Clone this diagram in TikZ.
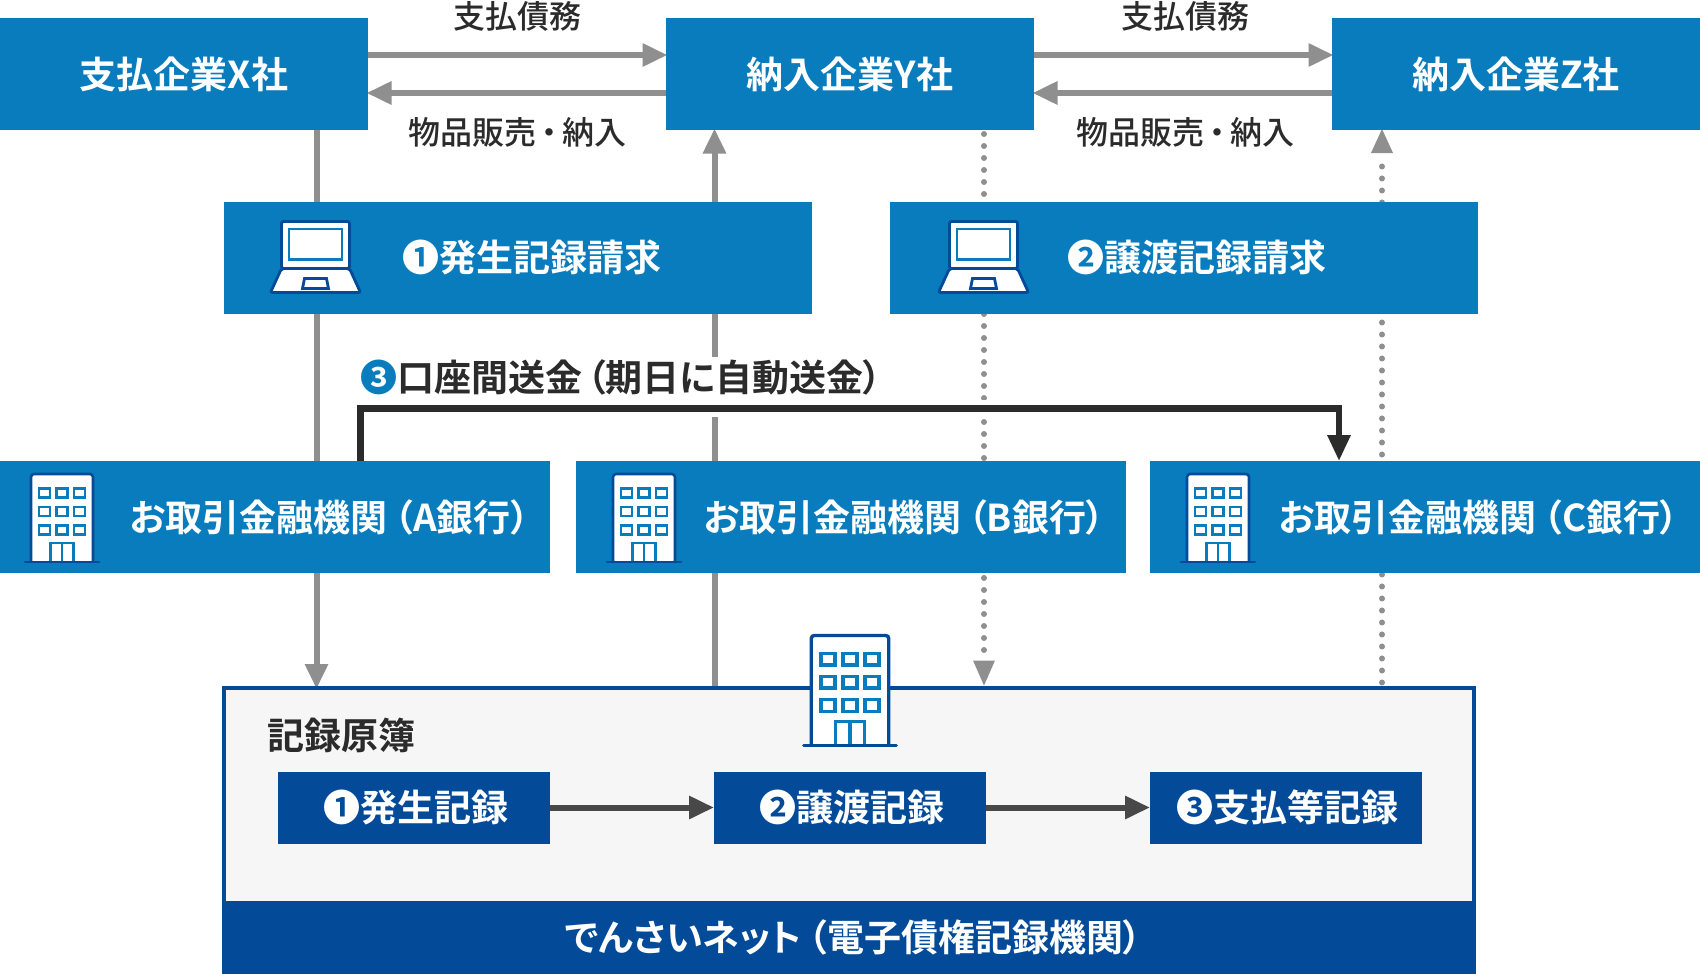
\documentclass[tikz,border=0pt]{standalone}
\usepackage{fontspec}
\setmainfont[RawFeature={+palt}]{Noto Sans CJK JP}
\newfontfamily\medf[RawFeature={+palt}]{Noto Sans CJK JP Medium}
\newfontfamily\boldf[RawFeature={+palt}]{Noto Sans CJK JP Bold}
\usetikzlibrary{arrows.meta,calc}
\definecolor{boxblue}{HTML}{087CBD}
\definecolor{navy}{HTML}{034A98}
\definecolor{linegray}{HTML}{8F8F8F}
\definecolor{inkdark}{HTML}{2B2B2B}
\definecolor{arrowdark}{HTML}{484848}
\definecolor{ledgerfill}{HTML}{F6F6F6}
\pgfdeclarelayer{under}
\pgfsetlayers{under,main}
\newcommand{\lp}{\kern7pt（}
\tikzset{
  x=1pt,y=-1pt,
  plain/.style={rectangle,inner sep=0pt,outer sep=0pt,anchor=north west},
  bluebox/.style={plain,fill=boxblue,text=white,font=\fontsize{37}{37}\boldf},
  navybox/.style={plain,fill=navy,text=white,font=\fontsize{37}{37}\boldf},
  whitelabel/.style={inner sep=0pt,outer sep=0pt,text=white,font=\fontsize{37}{37}\boldf},
  smalllabel/.style={inner sep=0pt,outer sep=0pt,text=inkdark,font=\fontsize{32}{32}\medf},
  darklabel/.style={inner sep=0pt,outer sep=0pt,text=inkdark,font=\fontsize{37}{37}\boldf},
  solidconn/.style={draw=linegray,line width=6pt,shorten >=-1.5pt,-{Triangle[length=25pt,width=22pt,fill=linegray]}},
  dotconn/.style={draw=linegray,line width=6pt,line cap=round,dash pattern=on 0pt off 12pt},
  grayhead/.style={fill=linegray,draw=none},
  transfer/.style={draw=inkdark,line width=6.2pt,-{Triangle[length=26pt,width=22pt,fill=inkdark]}},
  ledgerarrow/.style={draw=arrowdark,line width=6pt,-{Triangle[length=25pt,width=22pt,fill=arrowdark]}},
  bldg/.pic={
    \draw[navy,fill=white,rounded corners=3pt] (-31,0)--(-31,-88)--(31,-88)--(31,0);
    \foreach \wx in {-17.5,0,17.5}
      \foreach \wy in {-69,-50.5,-32}
        \draw[boxblue] (\wx-5.6,\wy-4.6) rectangle (\wx+5.6,\wy+4.6);
    \draw[boxblue] (-11.5,0)--(-11.5,-19)--(11.5,-19)--(11.5,0) (0,-19)--(0,0);
    \draw[navy,line cap=round] (-37,0)--(37,0);
  },
  laptop/.pic={
    \draw[navy,fill=white,rounded corners=2pt] (-34,-25)--(-34,-72)--(34,-72)--(34,-25)--cycle;
    \draw[boxblue,fill=white] (-26.5,-64.5)rectangle(26.5,-34);
    \draw[navy,fill=white,rounded corners=2pt] (-34,-25)--(34,-25)--(45,-1)--(-45,-1)--cycle;
    \draw[navy,fill=white] (-11,-15)--(11,-15)--(13,-5)--(-13,-5)--cycle;
  }
}
\begin{document}
\begin{tikzpicture}
\useasboundingbox (0,0) rectangle (1700,974);
% column guides for the vertical connectors
\coordinate (colA) at (316.5,0);
\coordinate (colB) at (714.5,0);
\coordinate (colC) at (984,0);
\coordinate (colD) at (1382,0);
\coordinate (colE) at (360.5,0);
\coordinate (colF) at (1339,0);

% companies
\node[bluebox,minimum width=368pt,minimum height=112pt] (X) at (0,18) {支払企業X社};
\node[bluebox,minimum width=368pt,minimum height=112pt] (Y) at (666,18) {納入企業Y社};
\node[bluebox,minimum width=368pt,minimum height=112pt] (Z) at (1332,18) {納入企業Z社};

% requests
\node[bluebox,minimum width=588pt,minimum height=112pt] (R1) at (224,202) {};
\node[bluebox,minimum width=588pt,minimum height=112pt] (R2) at (890,202) {};
\node[whitelabel] (R1t) at (531.5,257.5) {❶発生記録請求};
\node[whitelabel] (R2t) at (1197,257.5) {❷譲渡記録請求};
\pic[line width=2.8pt] at (315.5,293.5) {laptop};
\pic[line width=2.8pt] at (983.5,293.5) {laptop};

% banks
\node[bluebox,minimum width=550pt,minimum height=112pt] (BA) at (0,461) {};
\node[bluebox,minimum width=550pt,minimum height=112pt] (BB) at (576,461) {};
\node[bluebox,minimum width=550pt,minimum height=112pt] (BC) at (1150,461) {};
\node[whitelabel] (BAt) at (329.5,517.5) {お取引金融機関\lp A銀行）};
\node[whitelabel] (BBt) at (904,517.5) {お取引金融機関\lp B銀行）};
\node[whitelabel] (BCt) at (1479,517.5) {お取引金融機関\lp C銀行）};
\pic[line width=2.6pt] at (62,562) {bldg};
\pic[line width=2.6pt] at (644,562) {bldg};
\pic[line width=2.6pt] at (1218,562) {bldg};

% ledger
\node[plain,fill=ledgerfill,draw=navy,line width=4pt,minimum width=1250pt,minimum height=286pt] (L) at (224,687.5) {};
\node[navybox,minimum width=1254pt,minimum height=73pt] (F) at (222,901) {};
\node[whitelabel] (Ft) at (853.5,937.5) {でんさいネット\lp 電子債権記録機関）};
\node[darklabel] (Lt) at (341,735.5) {記録原簿};
\node[navybox,minimum width=272pt,minimum height=72pt] (L1) at (278,771.5) {};
\node[navybox,minimum width=272pt,minimum height=72pt] (L2) at (714,771.5) {};
\node[navybox,minimum width=272pt,minimum height=72pt] (L3) at (1150,771.5) {};
\node[whitelabel] (L1t) at (415.5,807.5) {❶発生記録};
\node[whitelabel] (L2t) at (851.5,807.5) {❷譲渡記録};
\node[whitelabel] (L3t) at (1287,807.5) {❸支払等記録};
\pic[line width=3.4pt,scale=1.25] at (850,745.5) {bldg};

% edge labels
\node[smalllabel] (p1) at (517,16) {支払債務};
\node[smalllabel] (p2) at (1185,16) {支払債務};
\node[smalllabel] (g1) at (517,132) {物品販売\kern5pt・\kern5pt納入};
\node[smalllabel] (g2) at (1185,132) {物品販売\kern5pt・\kern5pt納入};

% connectors
\begin{pgfonlayer}{under}
  \draw[solidconn] ($(X.east)+(-2,-19)$) -- ($(Y.west)+(0,-19)$);
  \draw[solidconn] ($(Y.west)+(0,19)$) -- ($(X.east)+(0,19)$);
  \draw[solidconn] ($(Y.east)+(0,-19)$) -- ($(Z.west)+(0,-19)$);
  \draw[solidconn] ($(Z.west)+(0,19)$) -- ($(Y.east)+(0,19)$);
  \draw[solidconn] (X.south -| colA) -- (L.north -| colA);
  \draw[solidconn] (L.north -| colB) -- (Y.south -| colB);
  \draw[dotconn] ($(Y.south -| colC)+(0,4)$) -- ($(L.north -| colC)+(0,-28)$);
  \fill[grayhead] ($(L.north -| colC)+(-11,-27)$) -- ($(L.north -| colC)+(11,-27)$) -- ($(L.north -| colC)+(0,-2)$) -- cycle;
  \draw[dotconn] ($(L.north -| colD)+(0,-5)$) -- ($(Z.south -| colD)+(0,25)$);
  \fill[grayhead] ($(Z.south -| colD)+(-11,23)$) -- ($(Z.south -| colD)+(11,23)$) -- ($(Z.south -| colD)+(0,-1)$) -- cycle;
  \draw[white,line width=17pt] (BA.north -| colE) -- ++(0,-52.5) -| (BC.north -| colF);
  \fill[white] (360,357) rectangle (880,401);
  \draw[transfer] (BA.north -| colE) -- ++(0,-52.5) -| (BC.north -| colF);
\end{pgfonlayer}
\draw[ledgerarrow] (L1.east) -- (L2.west);
\draw[ledgerarrow] (L2.east) -- (L3.west);
\node[darklabel] (T3) at (621,377.5) {\textcolor{boxblue}{❸}口座間送金\kern5pt（期日に自動送金）};
\end{tikzpicture}
\end{document}
